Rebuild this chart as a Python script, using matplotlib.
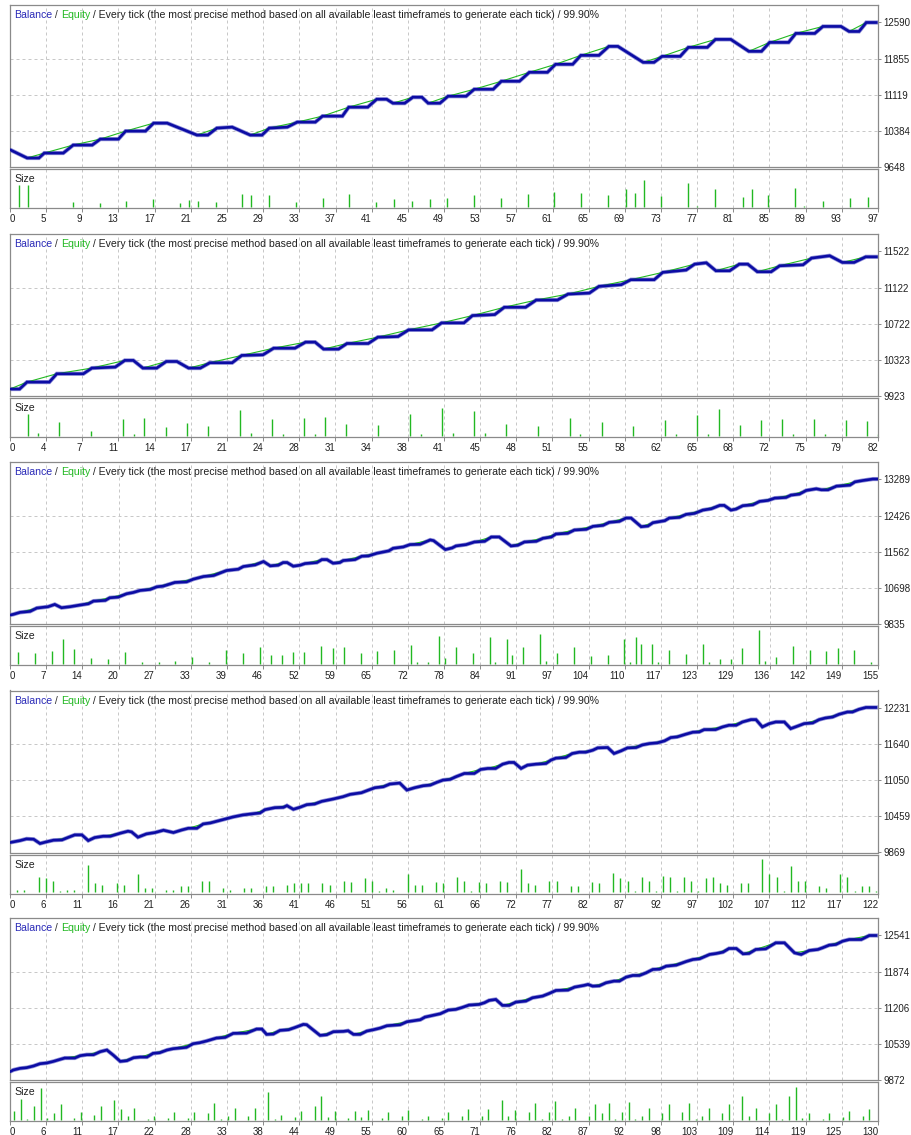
import matplotlib
matplotlib.use("Agg")
import matplotlib.pyplot as plt

plt.rcParams['font.family'] = ['Liberation Sans', 'DejaVu Sans']

# ---------------- panel 1 ----------------
p1_bal_x = [0, 1.9, 3.2, 3.8, 5.9, 7.0, 9.1, 10.0, 12.0, 12.8, 15.0, 15.9, 17.4, 20.7, 21.9,
            22.9, 24.6, 26.6, 27.9, 28.7, 30.7, 31.8, 33.8, 34.6, 36.8, 37.5, 39.6, 40.6, 41.7, 42.4,
            43.7, 44.6, 45.6, 46.3, 47.6, 48.5, 50.5, 51.4, 53.5, 54.4, 56.4, 57.5, 59.5, 60.4, 62.3,
            63.2, 65.2, 66.3, 67.3, 70.1, 71.3, 72.2, 74.2, 75.1, 77.2, 78.1, 79.8, 81.8, 83.2, 84.1,
            86.2, 87.0, 89.1, 90.0, 92.0, 92.9, 94.0, 94.8, 95.9]
p1_bal_y = [10000, 9831, 9831, 9932, 9932, 10095, 10095, 10216, 10216, 10379, 10379, 10541, 10541, 10298, 10298,
            10440, 10460, 10298, 10298, 10440, 10460, 10562, 10562, 10684, 10684, 10866, 10866, 11028, 11028, 10947,
            10947, 11069, 11069, 10947, 10947, 11089, 11089, 11231, 11231, 11394, 11394, 11576, 11576, 11739, 11739,
            11921, 11921, 12104, 12104, 11779, 11779, 11901, 11901, 12084, 12084, 12246, 12246, 12003, 12003, 12185,
            12185, 12368, 12368, 12510, 12510, 12408, 12408, 12590, 12590]
p1_size_x = [1.0, 2.0, 7.0, 10.0, 12.8, 15.8, 18.8, 19.8, 20.8, 22.8, 25.7, 26.7, 28.7, 31.7, 34.7,
             37.5, 40.5, 42.5, 44.5, 46.5, 48.4, 51.4, 54.4, 57.4, 60.2, 63.2, 66.2, 68.2, 69.2, 70.2,
             72.1, 75.1, 76.1, 78.1, 81.2, 82.1, 83.9, 86.9, 87.9, 90.0, 93.0, 95.0]
p1_size_h = [22, 22, 5, 3.5, 6, 8, 3.5, 7, 6, 5, 13, 12, 12, 5, 9,
             13, 5, 8, 6, 8, 9, 12, 9, 13, 15, 14, 12, 18, 14, 27,
             11, 24, 1, 18, 10, 18, 12, 19, 1, 6, 9, 10]
p1_xlabels = ['0', '5', '9', '13', '17', '21', '25', '29', '33', '37', '41', '45', '49', '53',
              '57', '61', '65', '69', '73', '77', '81', '85', '89', '93', '97']
p1_ylabels = [9648, 10384, 11119, 11855, 12590]

# ---------------- panel 2 ----------------
p2_bal_x = [0.35, 1.25, 1.95, 4.05, 4.75, 7.25, 8.05, 10.25, 11.15, 11.95, 12.85, 14.15, 15.05, 16.05, 17.15,
            18.25, 19.15, 21.25, 22.15, 24.15, 25.15, 27.15, 28.15, 29.05, 29.85, 31.25, 32.05, 34.05, 34.95,
            36.85, 37.85, 40.05, 40.95,
            43.05, 43.85, 45.95, 46.85, 48.85, 49.85, 51.85, 52.85, 54.85, 55.75, 57.85, 58.75, 60.95, 61.75,
            63.95, 64.75, 65.85, 66.75, 68.05, 68.95, 69.75, 70.65, 71.95, 72.75, 74.95, 75.75, 77.45, 78.65,
            79.75, 80.85, 81.85]
p2_bal_y = [10000, 10000, 10077, 10077, 10169, 10169, 10232, 10243, 10317, 10317, 10232, 10232, 10305, 10305, 10232,
            10232, 10291, 10291, 10372, 10379, 10452, 10452, 10519, 10519, 10442, 10442, 10504, 10504, 10574,
            10581, 10655, 10655, 10732,
            10732, 10813, 10824, 10905, 10905, 10985, 10985, 11051, 11062, 11136, 11155, 11210, 11210, 11291,
            11317, 11382, 11397, 11309, 11309, 11382, 11382, 11298, 11298, 11364, 11375, 11449, 11475, 11401,
            11401, 11463, 11463]
p2_size_x = [2, 3, 5, 8, 11, 12, 13, 15, 17, 19, 22, 23, 25, 26, 28, 29, 30, 32, 35, 38, 39, 41, 42,
             44, 45, 47, 50, 53, 54, 56, 59, 62, 63, 65, 66, 67, 69, 71, 73, 74, 76, 77, 79, 81, 82]
p2_size_h = [22, 3, 14, 5, 17, 2, 18, 9, 13, 10, 26, 3, 17, 2, 18, 2, 19, 12, 11, 22, 2, 28, 3,
             25, 3, 12, 10, 18, 2, 14, 10, 16, 2, 21, 2, 27, 11, 16, 17, 2, 17, 2, 16, 15, 2]
p2_xlabels = ['0', '4', '7', '11', '14', '17', '21', '24', '28', '31', '34', '38', '41', '45',
              '48', '51', '55', '58', '62', '65', '68', '72', '75', '79', '82']
p2_ylabels = [9923, 10323, 10722, 11122, 11522]

# ---------------- panel 3 ----------------
p3_bal_x = [0.52, 1.1, 2.3, 4.1, 5.3, 7.3, 8.5, 9.7, 11.2, 13.0, 14.5, 15.4, 17.5, 18.3, 19.8,
            21.3, 22.5, 23.7, 25.5, 26.7, 27.8, 29.9, 32.0, 33.2, 35.0, 36.8, 39.1, 41.2, 42.1, 44.2,
            45.7, 46.9, 48.3, 49.2, 49.9, 51.0, 52.2, 53.1, 55.2, 56.1, 57.0, 58.1, 59.3, 59.9, 62.0,
            63.2, 64.4, 65.9, 68.0, 68.8, 70.6, 71.8, 73.6, 75.4, 76.0, 78.1, 79.3, 80.0,
            81.8, 83.3, 85.1, 86.3, 87.7, 89.8, 91.0, 92.2, 94.3, 95.5, 97.0, 97.8, 99.9, 101.1, 103.2,
            104.4, 106.2, 107.3, 109.1, 110.3, 111.2, 113.0, 114.2, 115.1, 117.2, 118.0, 119.8, 121.0, 122.5,
            124.0, 125.5, 127.0, 127.8, 129.0, 129.9, 131.1, 132.9, 134.1, 135.6, 136.8, 138.8, 139.7, 141.2,
            142.4, 144.2, 145.1, 146.3, 147.8, 150.2, 151.1, 152.5, 154.3, 155.0]
p3_bal_y = [10049, 10065, 10113, 10137, 10216, 10248, 10303, 10224, 10248, 10288, 10319, 10383, 10399, 10462, 10478,
            10558, 10589, 10637, 10661, 10724, 10740, 10828, 10843, 10907, 10970, 10994, 11113, 11145, 11209, 11248,
            11328, 11225, 11240, 11304, 11304, 11217, 11240, 11280, 11304, 11375, 11375, 11288, 11304, 11352, 11375,
            11455, 11463, 11526, 11582, 11645, 11677, 11733, 11741, 11844, 11828, 11614, 11653, 11701,
            11733, 11796, 11812, 11915, 11915, 11701, 11717, 11796, 11812, 11884, 11915, 11987, 12003, 12082, 12098,
            12169, 12193, 12265, 12288, 12368, 12368, 12161, 12177, 12257, 12304, 12368, 12384, 12455, 12479,
            12558, 12590, 12670, 12670, 12558, 12582, 12662, 12685, 12765, 12789, 12844, 12860, 12916, 12940,
            13027, 13067, 13043, 13043, 13130, 13154, 13233, 13265, 13300, 13300]
p3_size_x = [2, 5, 8, 10, 12, 15, 18, 21, 24, 27, 30, 33, 36, 39, 42, 45, 47, 49, 51, 53, 56, 58, 60,
             63, 66, 69, 72, 73, 75, 77, 78, 80,
             83, 86, 87, 89, 90, 92, 95, 96, 98, 101, 104, 107, 110, 111, 112, 113, 115, 116, 118, 121,
             124, 125, 127, 129, 131, 134, 135, 137, 140, 143, 146, 148, 151, 154]
p3_size_h = [12, 11, 13, 25, 15, 6, 5, 12, 2, 2, 3, 7, 2, 14, 11, 17, 9, 9, 12, 12, 18, 16, 17,
             11, 13, 14, 19, 2, 2, 28, 6, 17,
             11, 27, 2, 25, 9, 17, 30, 3, 11, 17, 8, 9, 25, 2, 27, 20, 20, 2, 14, 10,
             20, 2, 5, 5, 16, 34, 3, 7, 18, 14, 13, 16, 14, 2]
p3_xlabels = ['0', '7', '14', '20', '27', '33', '39', '46', '52', '59', '65', '72', '78', '84',
              '91', '97', '104', '110', '117', '123', '129', '136', '142', '149', '155']
p3_ylabels = [9835, 10698, 11562, 12426, 13289]

# ---------------- panel 4 ----------------
p4_bal_x = [-0.03, 1.4, 2.3, 3.3, 4.2, 5.1, 6.1, 7.3, 8.0, 9.1, 10.1, 11.0, 11.9, 13.1, 14.1,
            15.5, 16.6, 17.1, 18.0, 19.2, 20.4, 21.6, 23.0, 24.2, 25.1, 26.3, 27.2, 28.2, 29.8, 31.4,
            32.8, 34.3, 35.2, 35.9, 37.3, 38.5, 39.0, 39.9, 40.8, 41.8, 42.9, 43.9, 45.5, 46.9, 47.9,
            49.5, 50.5, 51.4, 52.6, 53.5, 54.9, 55.9, 57.0, 58.2, 59.2, 60.1, 61.0, 62.0, 62.8,
            64.0, 65.4, 66.3, 67.3, 68.4, 69.4, 70.3, 71.0, 72.0, 72.9, 74.1, 75.5, 76.2, 76.9, 78.3,
            79.2, 80.2, 81.1, 82.1, 82.8, 84.2, 85.1, 86.1, 87.0, 88.2, 89.1, 90.1, 91.2, 92.2, 93.1,
            94.0, 95.2, 96.2, 97.1, 97.8, 99.4, 100.4, 101.3, 102.3, 103.2, 104.4, 105.1, 106.0, 107.0,
            107.9, 109.1, 110.0, 110.9, 111.9, 113.1, 114.0, 114.9, 115.9, 116.8, 118.0, 118.7, 119.6,
            120.6, 122.0]
p4_bal_y = [10032, 10064, 10092, 10086, 10016, 10043, 10070, 10075, 10108, 10157, 10157, 10064, 10113, 10135, 10135,
            10184, 10217, 10206, 10119, 10173, 10195, 10233, 10195, 10238, 10265, 10265, 10336, 10352, 10401, 10450,
            10483, 10504, 10515, 10569, 10602, 10607, 10635, 10575, 10607, 10651, 10662, 10705, 10743, 10781, 10819,
            10846, 10890, 10928, 10944, 10988, 11004, 10890, 10928, 10960, 10971, 11015, 11053, 11064, 11107,
            11161, 11161, 11227, 11243, 11243, 11313, 11341, 11341, 11243, 11297, 11313, 11324, 11379, 11411, 11422,
            11487, 11509, 11509, 11541, 11579, 11585, 11487, 11531, 11579, 11585, 11628, 11650, 11661, 11693, 11748,
            11759, 11802, 11835, 11840, 11878, 11878, 11922, 11949, 11949, 12003, 12041, 12041, 11922, 11976,
            12003, 12003, 11894, 11932, 11976, 11987, 12041, 12068, 12084, 12128, 12166, 12166, 12209,
            12240, 12240]
p4_size_x = [1, 2, 4, 5, 6, 7, 8, 9, 11, 12, 13, 15, 16, 18, 19, 20, 22, 23, 24, 25, 27, 28, 30, 31,
             33, 34, 36, 37, 39, 40, 41, 42, 44, 45, 47, 48, 50, 51, 52, 53, 54, 56, 57, 58, 60, 61,
             63, 64, 65, 66, 67, 69, 70, 72, 73, 74, 76, 77, 79, 80, 82, 83, 85, 86, 87, 88, 89, 90,
             91, 92, 93, 94, 95, 96, 97, 98, 99, 100, 101, 103, 104, 106, 107, 108, 109, 110, 111, 112,
             114, 115, 117, 118, 119, 120, 121, 122]
p4_size_h = [2, 2, 15, 14, 11, 1, 2, 2, 27, 9, 7, 9, 7, 18, 4, 4, 2, 2, 6, 6, 11, 11, 4, 2,
             4, 4, 6, 6, 7, 9, 9, 9, 9, 7, 11, 10, 14, 11, 1, 4, 2, 18, 7, 7, 10, 9,
             15, 11, 1, 10, 9, 11, 10, 23, 9, 7, 11, 11, 6, 6, 10, 9, 19, 14, 11, 1, 15, 11,
             1, 16, 15, 1, 15, 11, 1, 14, 15, 9, 7, 9, 9, 33, 18, 15, 1, 26, 11, 11,
             6, 4, 18, 15, 1, 6, 6, 1]
p4_xlabels = ['0', '6', '11', '16', '21', '26', '31', '36', '41', '46', '51', '56', '61', '66',
              '72', '77', '82', '87', '92', '97', '102', '107', '112', '117', '122']
p4_ylabels = [9869, 10459, 11050, 11640, 12231]

# ---------------- panel 5 ----------------
p5_bal_x = [0.4, 0.9, 1.9, 2.9, 3.9, 4.9, 5.9, 6.9, 7.9, 8.6, 10.1, 10.9, 11.9, 12.9, 13.9,
            14.9, 15.9, 16.9, 17.9, 18.9, 19.9, 20.9, 21.8, 22.8, 23.9, 24.8, 26.8, 27.8, 28.8, 29.8,
            31.3, 32.6, 33.8, 35.8, 37.3, 38.1, 38.8, 39.8, 40.8, 42.1, 43.1, 44.3, 44.8, 46.8, 47.8,
            48.8, 50.3, 51.0, 51.8, 52.8, 53.8, 54.8, 55.8, 56.8, 58.8, 59.8, 61.8, 62.5, 64.8, 66.0, 67.1,
            68.1, 69.1, 70.6, 71.4, 72.1, 73.1, 74.1, 75.1, 76.1, 77.6, 78.6, 80.1, 81.1, 82.1, 83.9,
            84.9, 86.3, 86.9, 87.6, 88.6, 89.6, 90.8, 91.6, 92.6, 93.6, 94.6, 95.6, 96.6, 97.6, 98.6,
            100.1, 101.6, 102.6, 103.6, 105.1, 106.1, 107.1, 108.0, 109.1, 110.1, 111.0, 112.0, 113.5, 115.0,
            116.3, 117.8, 118.8, 120.0, 121.3, 122.0, 123.0, 124.0, 125.0, 126.0, 127.8, 129.0, 130.0]
p5_bal_y = [10026, 10057, 10087, 10100, 10130, 10173, 10186, 10216, 10253, 10278, 10278, 10321, 10339, 10339, 10395,
            10426, 10327, 10216, 10229, 10284, 10296, 10296, 10364, 10376, 10426, 10450, 10475, 10542, 10561, 10592,
            10647, 10659, 10733, 10739, 10813, 10813, 10715, 10721, 10788, 10801, 10844, 10899, 10893, 10696, 10708,
            10764, 10770, 10782, 10715, 10715, 10776, 10801, 10831, 10874, 10893, 10948, 10985, 11034, 11096, 11164, 11176,
            11213, 11256, 11268, 11299, 11342, 11360, 11250, 11250, 11311, 11330, 11391, 11422, 11471, 11526, 11533,
            11588, 11619, 11637, 11606, 11612, 11668, 11699, 11699, 11772, 11803, 11803, 11852, 11914, 11920, 11975,
            11994, 12061, 12098, 12111, 12191, 12209, 12234, 12301, 12301, 12203, 12209, 12283, 12295, 12406,
            12406, 12221, 12191, 12264, 12283, 12314, 12363, 12375, 12436, 12467, 12467, 12541, 12541]
p5_size_x = [1, 2, 3, 4, 5, 6, 7, 8, 10, 11, 13, 14, 16, 17, 18, 19, 21, 22, 24, 25, 27, 28, 30, 31,
             32, 33, 34, 36, 37, 39, 40, 41, 43, 44, 46, 47, 48, 49, 51, 52, 53, 54, 56, 57, 59, 60,
             62, 63, 65, 66,
             68, 69, 71, 72, 74, 75, 76, 78, 79, 80, 81, 82, 83, 84, 85, 87, 88, 89, 90, 91, 92, 93,
             94, 95, 96, 98, 99, 101, 102, 103, 104, 105, 107, 108, 110, 111, 112, 114, 115, 116, 117,
             118, 119, 120, 122, 123, 125, 126, 128, 129]
p5_size_h = [9, 21, 1, 14, 32, 2, 7, 16, 2, 8, 5, 14, 20, 11, 4, 12, 1, 4, 2, 8, 2, 8, 7, 17,
             1, 4, 12, 4, 12, 28, 1, 5, 3, 9, 14, 24, 3, 9, 2, 9, 3, 10, 2, 8, 4, 10,
             1, 4, 2, 8,
             4, 11, 4, 11, 20, 4, 10, 8, 17, 1, 8, 19, 1, 4, 12, 4, 16, 7, 17, 1, 8, 18,
             1, 4, 12, 7, 16, 8, 17, 1, 4, 12, 7, 16, 24, 4, 12, 7, 16, 1, 24,
             33, 2, 7, 1, 7, 3, 9, 4, 11]
p5_xlabels = ['0', '6', '11', '17', '22', '28', '33', '38', '44', '49', '55', '60', '65', '71',
              '76', '82', '87', '92', '98', '103', '109', '114', '119', '125', '130']
p5_ylabels = [9872, 10539, 11206, 11874, 12541]

title_parts = [("Balance", "#2a2ab8"), (" / ", "#303030"), ("Equity", "#22b822"),
               (" / Every tick (the most precise method based on all available least timeframes "
                "to generate each tick) / 99.90%", "#202020")]

panels = [
    (p1_bal_x, p1_bal_y, p1_size_x, p1_size_h, (0.0, 96.1), p1_xlabels, p1_ylabels),
    (p2_bal_x, p2_bal_y, p2_size_x, p2_size_h, (0.35, 82.0), p2_xlabels, p2_ylabels),
    (p3_bal_x, p3_bal_y, p3_size_x, p3_size_h, (0.52, 155.2), p3_xlabels, p3_ylabels),
    (p4_bal_x, p4_bal_y, p4_size_x, p4_size_h, (-0.03, 122.3), p4_xlabels, p4_ylabels),
    (p5_bal_x, p5_bal_y, p5_size_x, p5_size_h, (0.4, 130.3), p5_xlabels, p5_ylabels),
]

# layout in pixels
FIG_W, FIG_H = 912, 1135
LEFT, WIDTH = 10, 868
MAIN_H, GAP, SIZE_H = 162, 2, 39
panel_tops = [5, 234, 462, 690.5, 918]

BLUE = "#0c0ca4"
HALO = "#9090d8"
GREEN = "#22b822"
GRID = "#c8c8c8"
FRAME = "#8a8a8a"
FS = 7.0
TITLE_FS = 7.6


def equity_path(xs, ys):
    # equity runs ahead of balance on the winning steps: cut the flat corner before each rise
    ex, ey = [xs[0]], [ys[0]]
    for i in range(1, len(xs) - 1):
        d_prev = ys[i] - ys[i - 1]
        d_next = ys[i + 1] - ys[i]
        if d_next > 0 and d_next > 2 * abs(d_prev):
            continue
        ex.append(xs[i])
        ey.append(ys[i])
    ex.append(xs[-1])
    ey.append(ys[-1])
    return ex, ey


fig = plt.figure(figsize=(FIG_W / 100, FIG_H / 100), dpi=100)

for top, (bx, by, sx, sh, xlim, xlabels, ylabels) in zip(panel_tops, panels):
    ax = fig.add_axes([LEFT / FIG_W, 1 - (top + MAIN_H) / FIG_H, WIDTH / FIG_W, MAIN_H / FIG_H])
    axs = fig.add_axes([LEFT / FIG_W, 1 - (top + MAIN_H + GAP + SIZE_H) / FIG_H,
                        WIDTH / FIG_W, SIZE_H / FIG_H])

    lo, hi = ylabels[0], ylabels[-1]
    ax.set_ylim(lo - 1e-6 * lo, lo + (hi - lo) * MAIN_H / 144.5)
    ax.set_xlim(*xlim)
    axs.set_xlim(*xlim)
    axs.set_ylim(-1.4, SIZE_H - 1.4)

    xpos = [xlim[0] + (xlim[1] - xlim[0]) * k / 24 for k in range(25)]

    # grid
    for x in xpos[1:-1]:
        for a in (ax, axs):
            a.axvline(x, color=GRID, lw=0.72, ls=(0, (3, 3)), zorder=0)
    for y in ylabels[1:4]:
        ax.axhline(y, color=GRID, lw=0.72, ls=(0, (3, 3)), zorder=0)

    # balance / equity
    ex, ey = equity_path(bx, by)
    ax.plot(bx, by, color=HALO, lw=3.0, solid_joinstyle='miter', zorder=2)
    ax.plot(ex, ey, color=GREEN, lw=0.8, zorder=3)
    ax.plot(bx, by, color=BLUE, lw=1.9, solid_joinstyle='miter', zorder=4)

    # size bars
    axs.vlines(sx, 0, sh, colors=GREEN, lw=1.0, zorder=2)

    # axes cosmetics
    for a in (ax, axs):
        for sp in a.spines.values():
            sp.set_color(FRAME)
            sp.set_linewidth(0.9)
    ax.set_xticks(xpos)
    ax.tick_params(axis='x', length=0, labelbottom=False)
    ax.yaxis.tick_right()
    ax.set_yticks(ylabels)
    ax.set_yticklabels([str(v) for v in ylabels])
    ax.tick_params(axis='y', length=2, width=0.7, color=FRAME, pad=2, labelsize=FS, labelcolor="#202020")

    axs.set_yticks([])
    axs.set_xticks(xpos)
    axs.set_xticklabels(xlabels)
    axs.tick_params(axis='x', length=3, width=0.7, color=FRAME, pad=1.5, labelsize=FS, labelcolor="#202020")
    for i, lab in enumerate(axs.get_xticklabels()):
        lab.set_horizontalalignment('left' if i == 0 else 'right')

    # title line
    prev = ax.text(4 / WIDTH, 1 - 10 / MAIN_H, title_parts[0][0], color=title_parts[0][1],
                   transform=ax.transAxes, fontsize=TITLE_FS, va='center', ha='left')
    for txt, col in title_parts[1:]:
        prev = ax.annotate(txt, xy=(1, 0), xycoords=prev, fontsize=TITLE_FS, color=col,
                           va='bottom', ha='left')
    axs.text(4 / WIDTH, 1 - 10 / SIZE_H, "Size", transform=axs.transAxes, fontsize=TITLE_FS,
             va='center', ha='left', color="#202020")

fig.savefig("out.png", dpi=100, facecolor="white")
